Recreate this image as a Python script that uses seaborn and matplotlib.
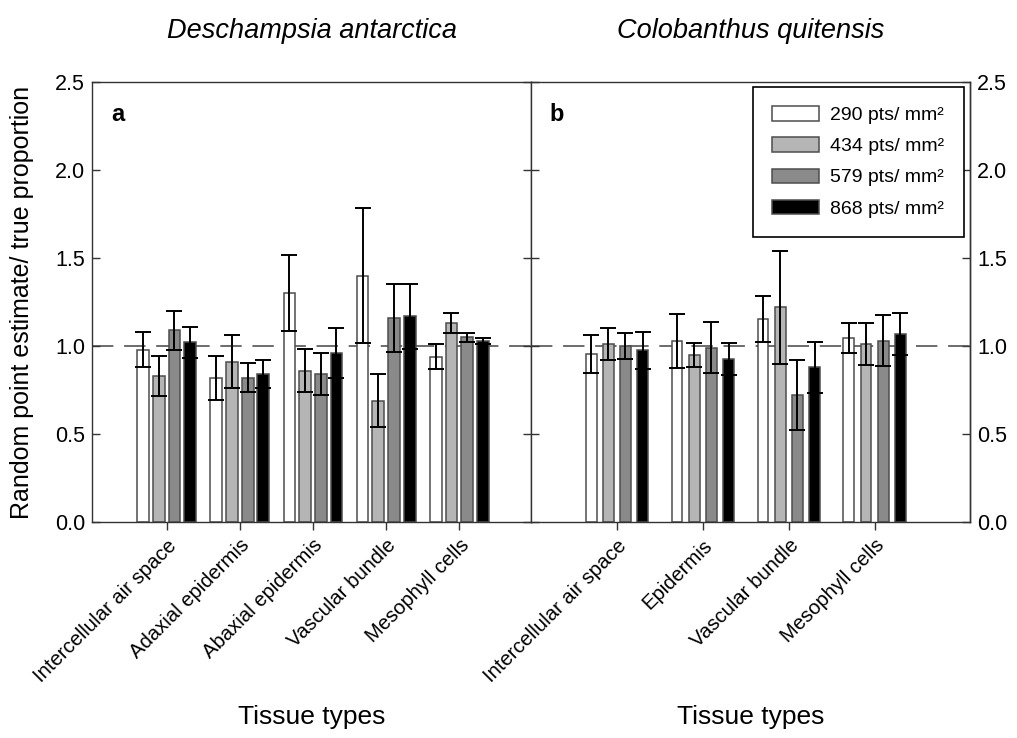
import matplotlib
matplotlib.use("Agg")
import matplotlib.pyplot as plt
import numpy as np
import pandas as pd
import seaborn as sns

# ---- data -------------------------------------------------------------
densities = ["290 pts/ mm\u00b2", "434 pts/ mm\u00b2", "579 pts/ mm\u00b2", "868 pts/ mm\u00b2"]

tissues_a = ["Intercellular air space", "Adaxial epidermis", "Abaxial epidermis",
             "Vascular bundle", "Mesophyll cells"]
mean_a_290 = [0.98, 0.82, 1.30, 1.40, 0.94]
mean_a_434 = [0.83, 0.91, 0.86, 0.69, 1.13]
mean_a_579 = [1.09, 0.82, 0.84, 1.16, 1.05]
mean_a_868 = [1.02, 0.84, 0.96, 1.17, 1.03]
err_a_290 = [0.10, 0.125, 0.215, 0.385, 0.07]
err_a_434 = [0.115, 0.15, 0.123, 0.15, 0.058]
err_a_579 = [0.11, 0.083, 0.12, 0.195, 0.025]
err_a_868 = [0.09, 0.08, 0.14, 0.185, 0.018]

tissues_b = ["Intercellular air space", "Epidermis", "Vascular bundle", "Mesophyll cells"]
mean_b_290 = [0.955, 1.03, 1.155, 1.045]
mean_b_434 = [1.01, 0.95, 1.22, 1.01]
mean_b_579 = [1.00, 0.99, 0.72, 1.03]
mean_b_868 = [0.975, 0.925, 0.88, 1.07]
err_b_290 = [0.11, 0.153, 0.13, 0.083]
err_b_434 = [0.09, 0.068, 0.32, 0.12]
err_b_579 = [0.075, 0.145, 0.20, 0.145]
err_b_868 = [0.105, 0.09, 0.145, 0.12]

species = ["Deschampsia antarctica", "Colobanthus quitensis"]
fill_colors = ["#ffffff", "#b5b5b5", "#8a8a8a", "#000000"]
y_ticks = [0.0, 0.5, 1.0, 1.5, 2.0, 2.5]


def long_table(tissues, means):
    rows = []
    for dens, vals in zip(densities, means):
        for t, v in zip(tissues, vals):
            rows.append({"tissue": t, "density": dens, "ratio": v})
    return pd.DataFrame(rows)


df_a = long_table(tissues_a, [mean_a_290, mean_a_434, mean_a_579, mean_a_868])
df_b = long_table(tissues_b, [mean_b_290, mean_b_434, mean_b_579, mean_b_868])
errs_a = [err_a_290, err_a_434, err_a_579, err_a_868]
errs_b = [err_b_290, err_b_434, err_b_579, err_b_868]

# ---- style ------------------------------------------------------------
sns.set_style("ticks")
plt.rcParams["font.family"] = ["Liberation Sans", "DejaVu Sans"]
plt.rcParams["text.color"] = "black"
plt.rcParams["axes.labelcolor"] = "black"
plt.rcParams["axes.edgecolor"] = "#333333"
plt.rcParams["axes.linewidth"] = 1.0
plt.rcParams["xtick.color"] = "#333333"
plt.rcParams["ytick.color"] = "#333333"
plt.rcParams["xtick.labelcolor"] = "black"
plt.rcParams["ytick.labelcolor"] = "black"

TICK_FS = 15.5

fig = plt.figure(figsize=(10.17, 7.38), dpi=100)
ax_a = fig.add_axes([0.0905, 0.2927, 0.4316, 0.5962])
ax_b = fig.add_axes([0.5221, 0.2927, 0.4317, 0.5962])


def draw_panel(ax, df, tissues, errs, width, gap, xlim):
    ax.axhline(1.0, color="#444444", lw=1.1, ls=(0, (14, 7)), zorder=0.5)
    sns.barplot(data=df, x="tissue", y="ratio", hue="density", hue_order=densities,
                order=tissues, palette=fill_colors, saturation=1, width=width, gap=gap,
                edgecolor="#4d4d4d", linewidth=1.1, errorbar=None, legend=False, ax=ax,
                zorder=2)
    bars = list(ax.containers)
    for cont, err in zip(bars, errs):
        xs = [p.get_x() + p.get_width() / 2 for p in cont]
        hs = [p.get_height() for p in cont]
        ax.errorbar(xs, hs, yerr=err, fmt="none", ecolor="black", elinewidth=1.4,
                    capsize=6, capthick=1.4, zorder=3)
    ax.set_xlim(*xlim)
    ax.set_ylim(0, 2.5)
    ax.set_yticks(y_ticks)
    ax.set_yticklabels([f"{v:.1f}" for v in y_ticks])
    ax.set_xticks(range(len(tissues)))
    ax.set_xticklabels(tissues, rotation=45, ha="right", va="top",
                       rotation_mode="anchor", fontsize=14.6)
    ax.tick_params(axis="x", direction="out", length=6, width=1, pad=4)
    ax.set_xlabel("Tissue types", fontsize=19)
    ax.xaxis.set_label_coords(0.5, -0.415)
    ax.set_ylabel("")
    for s in ax.spines.values():
        s.set_visible(True)
    return bars


bars_a = draw_panel(ax_a, df_a, tissues_a, errs_a, 0.857, 0.25, (-1.02, 4.98))
bars_b = draw_panel(ax_b, df_b, tissues_b, errs_b, 0.8, 0.37, (-1.0, 4.11))

# y axes: labels on the outer sides, shared divider in the middle
ax_a.tick_params(axis="y", direction="in", length=6, width=1, labelsize=TICK_FS,
                 left=True, right=False, pad=5)
ax_a.set_ylabel("Random point estimate/ true proportion", fontsize=18, labelpad=15)
ax_b.tick_params(axis="y", direction="inout", length=11, width=1, left=True,
                 right=False, labelleft=False)
sec = ax_b.secondary_yaxis("right")
sec.set_yticks(y_ticks)
sec.set_yticklabels([f"{v:.1f}" for v in y_ticks])
sec.tick_params(direction="in", length=6, width=1, labelsize=TICK_FS, pad=5)

for ax, name, tag in [(ax_a, species[0], "a"), (ax_b, species[1], "b")]:
    ax.set_title(name, fontsize=19.5, style="italic", pad=32)
    ax.text(0.058, 0.925, tag, transform=ax.transAxes, fontsize=17,
            fontweight="bold", ha="center", va="center")

leg = ax_b.legend([c[0] for c in bars_b], densities, loc="upper right",
                  bbox_to_anchor=(0.986, 0.989), frameon=True, fancybox=False,
                  edgecolor="black", framealpha=1, fontsize=14, handlelength=2.4,
                  handleheight=0.75, labelspacing=0.68, borderpad=1.0,
                  handletextpad=0.6, borderaxespad=0)
leg.get_frame().set_linewidth(1.2)

fig.savefig("out.png", dpi=100)
